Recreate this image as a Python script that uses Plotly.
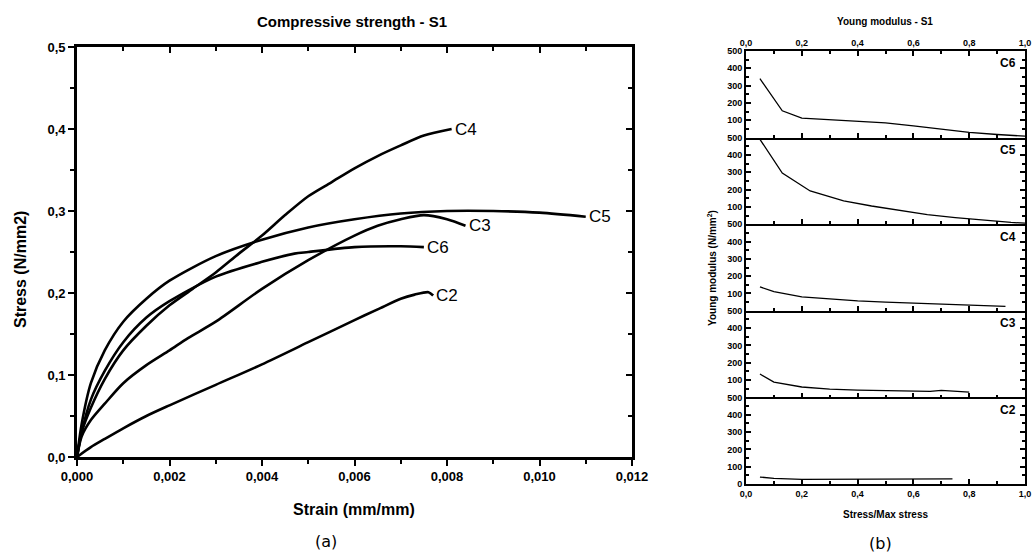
import plotly.graph_objects as go

# ---------------- Data: (a) Compressive strength - S1 ----------------
c2_strain = [0, 0.0003, 0.0006, 0.001, 0.0015, 0.002, 0.003, 0.004, 0.005, 0.006, 0.0065, 0.007, 0.0073, 0.0076, 0.0077]
c2_stress = [0, 0.012, 0.022, 0.035, 0.05, 0.063, 0.088, 0.113, 0.14, 0.167, 0.18, 0.193, 0.198, 0.201, 0.197]

c3_strain = [0, 0.0001, 0.0003, 0.0006, 0.001, 0.0015, 0.002, 0.0024, 0.003, 0.004, 0.005, 0.006, 0.0065, 0.007, 0.0075, 0.008, 0.0084]
c3_stress = [0, 0.025, 0.045, 0.065, 0.09, 0.112, 0.13, 0.145, 0.165, 0.205, 0.24, 0.27, 0.282, 0.29, 0.295, 0.29, 0.282]

c4_strain = [0, 0.0001, 0.0003, 0.0006, 0.001, 0.0015, 0.002, 0.0025, 0.003, 0.0035, 0.004, 0.0045, 0.005, 0.0055, 0.006, 0.0065, 0.007, 0.0075, 0.0081]
c4_stress = [0, 0.03, 0.06, 0.095, 0.13, 0.16, 0.185, 0.205, 0.225, 0.248, 0.27, 0.295, 0.318, 0.335, 0.352, 0.367, 0.38, 0.392, 0.40]

c5_strain = [0, 0.0001, 0.0003, 0.0006, 0.001, 0.0015, 0.002, 0.003, 0.004, 0.005, 0.006, 0.007, 0.008, 0.009, 0.010, 0.011]
c5_stress = [0, 0.04, 0.09, 0.13, 0.165, 0.193, 0.215, 0.245, 0.265, 0.28, 0.29, 0.297, 0.300, 0.300, 0.298, 0.293]

c6_strain = [0, 0.0001, 0.0003, 0.0006, 0.001, 0.0015, 0.002, 0.003, 0.004, 0.0047, 0.005, 0.006, 0.007, 0.0075]
c6_stress = [0, 0.03, 0.07, 0.105, 0.14, 0.17, 0.19, 0.22, 0.238, 0.248, 0.25, 0.256, 0.257, 0.256]

curve_names = ["C2", "C3", "C4", "C5", "C6"]

# ---------------- Data: (b) Young modulus - S1 ----------------
e_c6_x = [0.05, 0.13, 0.2, 0.3, 0.4, 0.5, 0.6, 0.7, 0.8, 0.9, 1.0]
e_c6_y = [340, 155, 112, 103, 97, 85, 68, 48, 30, 18, 8]
e_c5_x = [0.05, 0.13, 0.23, 0.35, 0.45, 0.55, 0.65, 0.75, 0.85, 0.95, 1.0]
e_c5_y = [490, 295, 192, 135, 105, 78, 55, 38, 22, 10, 6]
e_c4_x = [0.05, 0.1, 0.2, 0.3, 0.4, 0.5, 0.6, 0.7, 0.8, 0.93]
e_c4_y = [138, 111, 80, 67, 57, 50, 44, 40, 34, 25]
e_c3_x = [0.05, 0.1, 0.2, 0.3, 0.4, 0.5, 0.6, 0.66, 0.7, 0.8]
e_c3_y = [135, 88, 60, 48, 42, 38, 36, 35, 40, 30]
e_c2_x = [0.05, 0.1, 0.2, 0.4, 0.6, 0.74]
e_c2_y = [40, 33, 27, 27, 28, 30]

panel_names = ["C6", "C5", "C4", "C3", "C2"]
y_ticks = [100, 200, 300, 400, 500]
y_ticks_bottom = [0, 100, 200, 300, 400, 500]

FONT = "Liberation Sans"
W, H = 1035, 555

def px_x(p):
    return p / W

def px_y(p):
    return 1 - p / H

fig = go.Figure()

# ---------- left chart ----------
left_series = [
    (c2_strain, c2_stress), (c3_strain, c3_stress), (c4_strain, c4_stress),
    (c5_strain, c5_stress), (c6_strain, c6_stress),
]
for name, (xs, ys) in zip(curve_names, left_series):
    fig.add_trace(go.Scatter(x=xs, y=ys, mode="lines", name=name,
                             line=dict(color="black", width=2.6, shape="spline", smoothing=0.8),
                             showlegend=False, hoverinfo="skip", xaxis="x", yaxis="y"))
    fig.add_annotation(x=xs[-1], y=ys[-1], xref="x", yref="y", text=name, showarrow=False,
                       xanchor="left", yanchor="middle", xshift=1,
                       font=dict(family=FONT, size=17, color="black"))

# overlay axes for inward mirrored ticks (left chart)
fig.add_trace(go.Scatter(x=[0], y=[0], mode="markers", marker=dict(opacity=0),
                         showlegend=False, hoverinfo="skip", xaxis="x7", yaxis="y7"))

# ---------- right chart ----------
right_series = [(e_c6_x, e_c6_y), (e_c5_x, e_c5_y), (e_c4_x, e_c4_y), (e_c3_x, e_c3_y), (e_c2_x, e_c2_y)]
for i, (name, (xs, ys)) in enumerate(zip(panel_names, right_series)):
    k = i + 2
    fig.add_trace(go.Scatter(x=xs, y=ys, mode="lines", name=name,
                             line=dict(color="black", width=1.3),
                             showlegend=False, hoverinfo="skip", xaxis=f"x{k}", yaxis=f"y{k}"))
fig.add_trace(go.Scatter(x=[0], y=[0], mode="markers", marker=dict(opacity=0),
                         showlegend=False, hoverinfo="skip", xaxis="x8", yaxis="y2"))

# ---------- layout ----------
L_x0, L_x1, L_yt, L_yb = 77, 632, 47, 457
R_x0, R_x1 = 746, 1025
bounds = [51, 137.6, 224.2, 310.8, 397.4, 484]

tickfont_l = dict(family=FONT, size=13, color="black", weight="bold")
tickfont_r = dict(family=FONT, size=9, color="black", weight="bold")

layout = dict(
    width=W, height=H, margin=dict(l=0, r=0, t=0, b=0, autoexpand=False),
    paper_bgcolor="white", plot_bgcolor="white", separators=",.",
    showlegend=False,
    xaxis=dict(domain=[px_x(L_x0), px_x(L_x1)], range=[0, 0.012], anchor="y", automargin=False,
               tickmode="array", tickvals=[0, 0.002, 0.004, 0.006, 0.008, 0.010, 0.012],
               tickformat=".3f", ticks="outside", ticklen=6, tickwidth=2, tickcolor="black",
               minor=dict(ticks="outside", ticklen=4, tickwidth=2, tickcolor="black", dtick=0.001),
               showline=True, linewidth=2.6, linecolor="black", showgrid=False, zeroline=False,
               tickfont=tickfont_l),
    yaxis=dict(domain=[px_y(L_yb), px_y(L_yt)], range=[0, 0.5], anchor="x", automargin=False,
               tickmode="array", tickvals=[0, 0.1, 0.2, 0.3, 0.4, 0.5], tickformat=".1f",
               ticks="outside", ticklen=6, tickwidth=2, tickcolor="black",
               minor=dict(ticks="outside", ticklen=4, tickwidth=2, tickcolor="black", dtick=0.05),
               showline=True, linewidth=2.6, linecolor="black", showgrid=False, zeroline=False,
               tickfont=tickfont_l),
    xaxis7=dict(overlaying="x", side="top", anchor="y7", range=[0, 0.012], automargin=False,
                tickmode="array", tickvals=[0, 0.002, 0.004, 0.006, 0.008, 0.010, 0.012],
                ticks="inside", ticklen=6, tickwidth=2, tickcolor="black",
                minor=dict(ticks="inside", ticklen=4, tickwidth=2, tickcolor="black", dtick=0.001),
                showticklabels=False, showline=True, linewidth=2.6, linecolor="black",
                showgrid=False, zeroline=False),
    yaxis7=dict(overlaying="y", side="right", anchor="x7", range=[0, 0.5], automargin=False,
                tickmode="array", tickvals=[0, 0.1, 0.2, 0.3, 0.4, 0.5],
                ticks="inside", ticklen=6, tickwidth=2, tickcolor="black",
                minor=dict(ticks="inside", ticklen=4, tickwidth=2, tickcolor="black", dtick=0.05),
                showticklabels=False, showline=True, linewidth=2.6, linecolor="black",
                showgrid=False, zeroline=False),
)

for i in range(5):
    k = i + 2
    top, bot = bounds[i], bounds[i + 1]
    is_bottom = (i == 4)
    layout[f"xaxis{k}"] = dict(
        domain=[px_x(R_x0), px_x(R_x1)], range=[0, 1], anchor=f"y{k}", automargin=False,
        tickmode="array", tickvals=[0, 0.2, 0.4, 0.6, 0.8, 1.0], tickformat=".1f",
        ticks="inside", ticklen=5, tickwidth=1.5, tickcolor="black",
        minor=dict(ticks="inside", ticklen=3, tickwidth=1.5, tickcolor="black", dtick=0.1),
        showticklabels=is_bottom, tickfont=tickfont_r,
        showline=True, linewidth=1.8, linecolor="black", showgrid=False, zeroline=False,
    )
    layout[f"yaxis{k}"] = dict(
        domain=[px_y(bot), px_y(top)], range=[0, 500], anchor=f"x{k}", automargin=False,
        tickmode="array", tickvals=(y_ticks_bottom if is_bottom else y_ticks),
        ticks="inside", ticklen=5, tickwidth=1.5, tickcolor="black",
        minor=dict(ticks="inside", ticklen=3, tickwidth=1.5, tickcolor="black", dtick=50),
        mirror="ticks", tickfont=tickfont_r,
        showline=True, linewidth=1.8, linecolor="black", showgrid=False, zeroline=False,
    )

layout["xaxis8"] = dict(overlaying="x2", side="top", anchor="y2", range=[0, 1], automargin=False,
                        tickmode="array", tickvals=[0, 0.2, 0.4, 0.6, 0.8, 1.0], tickformat=".1f",
                        ticks="inside", ticklen=5, tickwidth=1.5, tickcolor="black",
                        minor=dict(ticks="inside", ticklen=3, tickwidth=1.5, tickcolor="black", dtick=0.1),
                        showticklabels=True, tickfont=tickfont_r,
                        showline=True, linewidth=1.8, linecolor="black", showgrid=False, zeroline=False)

fig.update_layout(**layout)

# panel labels
for i, name in enumerate(panel_names):
    k = i + 2
    fig.add_annotation(x=0.975, y=0.96, xref=f"x{k} domain", yref=f"y{k} domain", text=name,
                       showarrow=False, xanchor="right", yanchor="top",
                       font=dict(family=FONT, size=12, color="black", weight="bold"))

def label(x, y, text, size, angle=0, family=FONT, bold=True):
    fig.add_annotation(x=px_x(x), y=px_y(y), xref="paper", yref="paper", text=text,
                       showarrow=False, textangle=angle, xanchor="center", yanchor="middle",
                       font=dict(family=family, size=size, color="black",
                                 weight="bold" if bold else "normal"))

# titles, axis titles and captions
label(352, 21, "Compressive strength - S1", 15)
label(354, 509, "Strain (mm/mm)", 16)
label(20, 270, "Stress (N/mm2)", 16, angle=-90)
label(885, 21, "Young modulus - S1", 10)
label(712, 268, "Young modulus (N/mm<sup>2</sup>)", 10, angle=-90)
label(885, 514, "Stress/Max stress", 10)
label(326, 541, "(a)", 16, family="DejaVu Sans", bold=False)
label(880, 543, "(b)", 16, family="DejaVu Sans", bold=False)

fig.write_html("out.html")
